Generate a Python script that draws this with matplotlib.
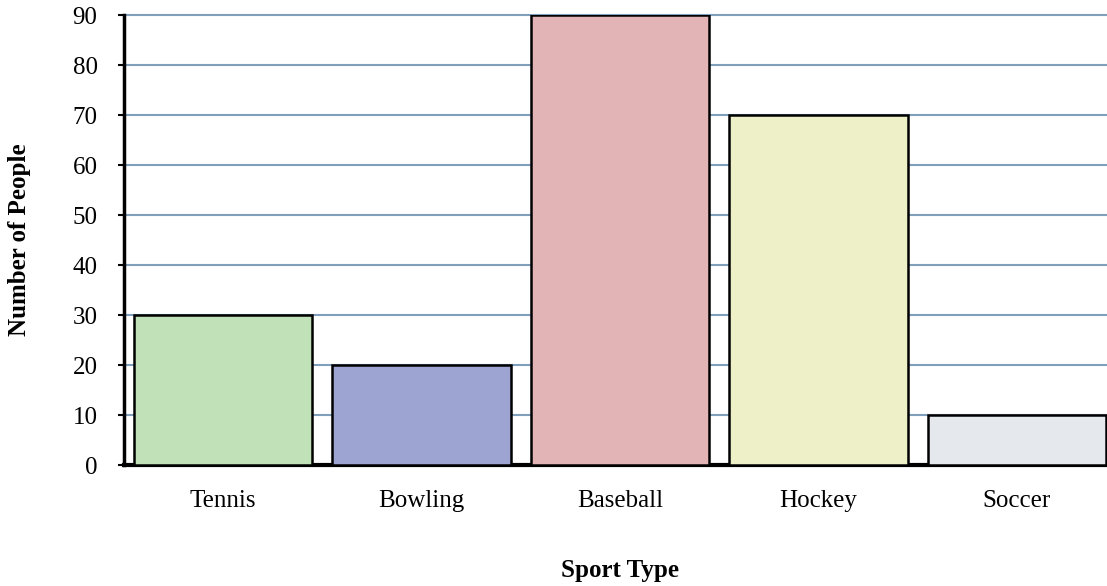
import matplotlib.pyplot as plt

sports = ['Tennis', 'Bowling', 'Baseball', 'Hockey', 'Soccer']
people = [30, 20, 90, 70, 10]
colors = ['#c1e2b8', '#9ea4d2', '#e2b4b5', '#eef1c7', '#e5e9ee']
yticks = [0, 10, 20, 30, 40, 50, 60, 70, 80, 90]

plt.rcParams['font.family'] = ['Liberation Serif', 'DejaVu Serif']

fig = plt.figure(figsize=(11.07, 5.86), dpi=100)
ax = fig.add_axes([124/1107, 121/586, 992/1107, 450/586])

x = range(len(sports))
ax.bar(x, people, width=0.9, color=colors, edgecolor='black', linewidth=1.8, zorder=3)

ax.set_xlim(-0.5, len(sports) - 0.5)
ax.set_ylim(0, 90)
ax.set_yticks(yticks)
ax.set_xticks(list(x))
ax.set_xticklabels(sports)
ax.yaxis.grid(True, color='#809fbd', linewidth=1.5, zorder=0)
for g in ax.yaxis.get_gridlines():
    g.set_clip_on(False)
ax.set_axisbelow(True)

for s in ['top', 'right']:
    ax.spines[s].set_visible(False)
ax.spines['left'].set_linewidth(2.5)
ax.spines['bottom'].set_linewidth(3)
ax.tick_params(axis='y', direction='out', length=4, width=1.5, labelsize=18, pad=15)
ax.tick_params(axis='x', length=0, labelsize=18, pad=18)

ax.set_ylabel('Number of People', fontsize=18, fontweight='bold', va='center')
ax.yaxis.set_label_coords(-104/992, 0.5)
ax.set_xlabel('Sport Type', fontsize=18, fontweight='bold', va='center')
ax.xaxis.set_label_coords(0.5, -105/450)

plt.savefig('out.png', dpi=100)
